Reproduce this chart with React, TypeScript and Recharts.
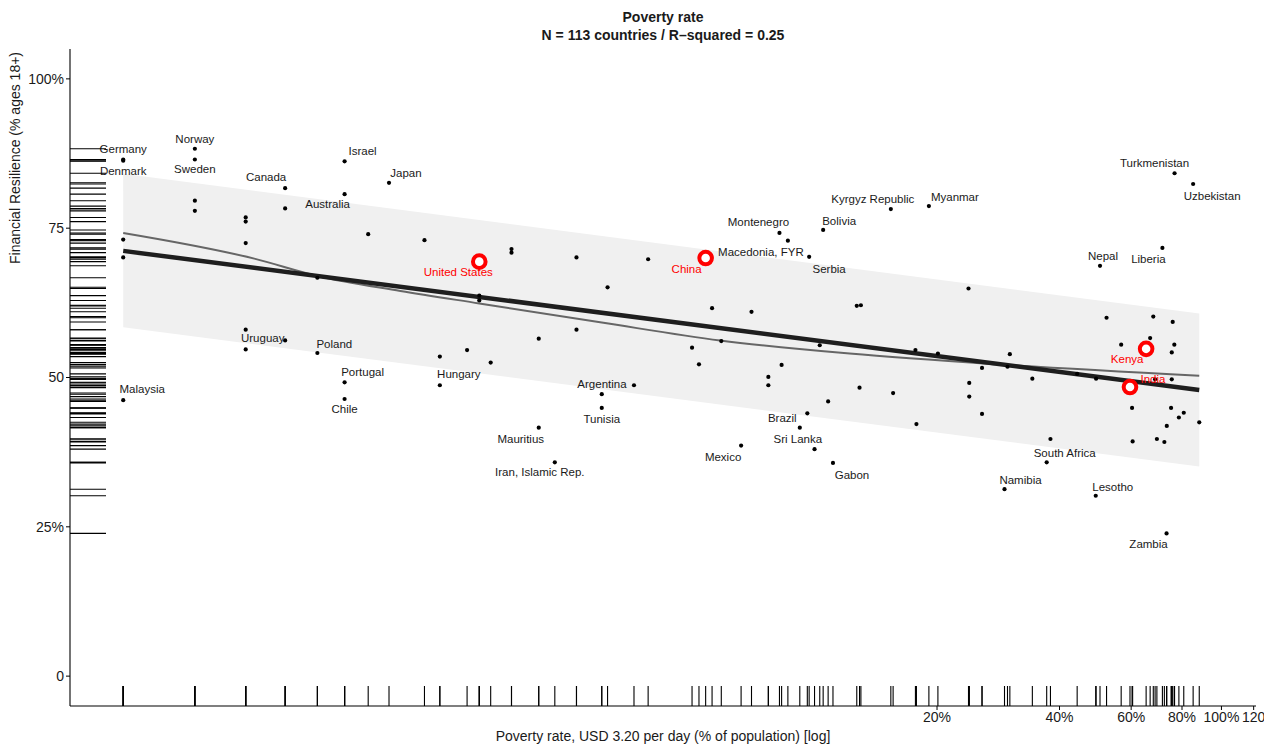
import React from 'react';
import { ComposedChart, XAxis, YAxis, Scatter, Line, Area } from 'recharts';

// ---- Data ----
const countries = [
  'Germany', 'Denmark', '', '', 'Malaysia',
  'Norway', 'Sweden', '', '',
  '', '', '', '', 'Uruguay',
  'Canada', '', '',
  '', 'Poland',
  'Israel', 'Australia', 'Portugal', 'Chile',
  '', 'Japan', '', '', 'Hungary', '',
  'United States', '', '', '', '', '',
  '', 'Mauritius', 'Iran, Islamic Rep.', '', '', '', 'Tunisia', '', 'Argentina', '',
  '', '', 'China', '', '', 'Mexico', '', '', '',
  'Montenegro', '', 'Macedonia, FYR', 'Sri Lanka', 'Brazil', 'Serbia', '', '', 'Bolivia', '', 'Gabon',
  '', '', '', 'Kyrgyz Republic', '', '', '', 'Myanmar', '',
  '', '', '', '', '', 'Namibia', '', '', '', 'South Africa', '', '',
  'Lesotho', '', 'Nepal', '', '', 'India', '', '', 'Kenya', '', '', '', '',
  'Liberia', '', 'Zambia', '', '', '', '', '', '', 'Turkmenistan', '', '', 'Uzbekistan', '',
];

const povertyRate = [
  0.2, 0.2, 0.2, 0.2, 0.2,
  0.3, 0.3, 0.3, 0.3,
  0.4, 0.4, 0.4, 0.4, 0.4,
  0.5, 0.5, 0.5,
  0.6, 0.6,
  0.7, 0.7, 0.7, 0.7,
  0.8, 0.9, 1.1, 1.2, 1.2, 1.4,
  1.5, 1.5, 1.5, 1.6, 1.8, 1.8,
  2.1, 2.1, 2.3, 2.6, 2.6, 3.0, 3.0, 3.1, 3.6, 3.9,
  5.0, 5.2, 5.4, 5.6, 5.9, 6.6, 7.0, 7.7, 7.7,
  8.2, 8.3, 8.6, 9.2, 9.6, 9.7, 10.0, 10.3, 10.5, 10.8, 11.1,
  12.7, 12.9, 13.0, 15.4, 15.6, 17.7, 17.8, 19.1, 20.1,
  23.9, 24.0, 24.0, 25.8, 25.8, 29.3, 29.8, 30.2, 34.3, 37.2, 38.0, 44.2,
  49.1, 49.2, 50.3, 52.2, 56.7, 59.6, 60.3, 60.5, 65.3, 66.8, 68.0, 68.7, 69.4,
  71.6, 72.4, 73.3, 73.4, 75.2, 75.5, 75.5, 75.9, 76.6, 76.7, 78.6, 80.8, 85.2, 88.2,
];

const resilience = [
  86.5, 86.3, 73.1, 70.1, 46.2,
  88.3, 86.5, 79.6, 77.9,
  76.8, 76.1, 72.5, 58.0, 54.7,
  81.7, 78.3, 56.2,
  66.7, 54.1,
  86.2, 80.7, 49.2, 46.4,
  74.0, 82.6, 73.0, 53.5, 48.7, 54.6,
  69.4, 63.7, 62.9, 52.5, 71.5, 70.9,
  56.5, 41.6, 35.8, 70.1, 58.0, 47.2, 44.9, 65.1, 48.7, 69.8,
  55.0, 52.2, 70.0, 61.6, 56.1, 38.6, 61.0, 50.1, 48.7,
  74.2, 52.1, 72.9, 41.6, 44.0, 70.2, 38.0, 55.4, 74.7, 46.0, 35.7,
  62.0, 48.3, 62.1, 78.2, 47.4, 54.6, 42.2, 78.7, 54.0,
  64.9, 49.1, 46.8, 51.6, 43.9, 31.3, 51.8, 53.9, 49.8, 35.8, 39.7, 50.6,
  30.2, 49.8, 68.7, 60.0, 55.5, 48.4, 44.9, 39.3, 54.8, 56.6, 60.2, 49.7, 39.7,
  71.7, 39.2, 23.9, 41.9, 44.9, 54.2, 49.7, 59.3, 55.5, 84.2, 43.3, 44.1, 82.4, 42.5,
];

const highlighted = ['United States', 'China', 'Kenya', 'India'];

// linear fit (log x) endpoints and prediction band
const fitX = [0.2, 88.2];
const fitY = [71.2, 47.9];
const bandLow = [58.4, 35.1];
const bandHigh = [84.1, 60.7];

// loess curve
const loessX = [0.2, 0.42, 0.6, 0.96, 1.5, 3.0, 5.86, 12.2, 28, 88.2];
const loessY = [74.2, 69.9, 67.0, 64.5, 62.4, 59.2, 56.2, 54.0, 52.2, 50.3];

const xTicks = [20, 40, 60, 80, 100, 120];
const xTickLabels = ['20%', '40%', '60%', '80%', '100%', '120'];
const yTicks = [0, 25, 50, 75, 100];
const yTickLabels = ['0', '25%', '50', '75', '100%'];

const X_DOMAIN: [number, number] = [0.148, 121.6];
const Y_DOMAIN: [number, number] = [-5, 105];

// label placement offsets (pixels), like ggrepel
const labelNudge: Record<string, [number, number]> = {
  Germany: [0, -10], Denmark: [0, 10], Norway: [0, -10], Sweden: [0, 10],
  Canada: [-19, -11], Australia: [-17, 10], Israel: [18, -10], Japan: [17, -10],
  'United States': [-21, 10], China: [-19, 11], 'Macedonia, FYR': [-27, 11],
  Montenegro: [-21, -11], Bolivia: [16, -9], Serbia: [20, 12],
  'Kyrgyz Republic': [-18, -10], Myanmar: [26, -9], Turkmenistan: [-20, -10],
  Uzbekistan: [19, 12], Nepal: [3, -10], Liberia: [-14, 11], Kenya: [-19, 10],
  India: [23, -8], Uruguay: [17, -11], Poland: [17, -9], Portugal: [18, -10],
  Chile: [0, 10], Malaysia: [19, -11], Hungary: [19, -11], Argentina: [-32, -1],
  Tunisia: [0, 11], Mauritius: [-18, 11], 'Iran, Islamic Rep.': [-15, 10],
  Mexico: [-18, 11], Brazil: [-25, 5], 'Sri Lanka': [-2, 11], Gabon: [19, 12],
  'South Africa': [18, -9], Namibia: [16, -9], Lesotho: [17, -9], Zambia: [-18, 11],
};

// ---- built tables ----
const points = povertyRate.map((x, i) => ({ x, y: resilience[i], name: countries[i] }));
const hiPoints = points.filter((p) => highlighted.includes(p.name));
const labelPoints = points.filter((p) => p.name !== '');
const fitData = fitX.map((x, i) => ({ x, y: fitY[i], band: [bandLow[i], bandHigh[i]] }));
const loessData = loessX.map((x, i) => ({ x, y: loessY[i] }));
const xRug = povertyRate.map((x) => ({ x, y: Y_DOMAIN[0] }));
const yRug = resilience.map((y) => ({ x: X_DOMAIN[0], y }));

const FONT = '"Liberation Sans", Arial, Helvetica, sans-serif';

const Dot = (props: any) => <circle cx={props.cx} cy={props.cy} r={2.1} fill="#000" />;
const Ring = (props: any) => (
  <circle cx={props.cx} cy={props.cy} r={6.3} fill="#fff" stroke="#ff0000" strokeWidth={4} />
);
const LabelShape = (props: any) => {
  const name = props.payload.name as string;
  const n = labelNudge[name] || [0, -10];
  const red = highlighted.includes(name);
  return (
    <text
      x={props.cx + n[0]}
      y={props.cy + n[1]}
      textAnchor="middle"
      dominantBaseline="central"
      fontSize={11.5}
      fontFamily={FONT}
      fill={red ? '#ff0000' : '#1a1a1a'}
    >
      {name}
    </text>
  );
};
const XRugShape = (props: any) => (
  <line x1={props.cx} x2={props.cx} y1={props.cy} y2={props.cy - 20} stroke="#000" strokeWidth={1.1} />
);
const YRugShape = (props: any) => (
  <line x1={props.cx} x2={props.cx + 36} y1={props.cy} y2={props.cy} stroke="#000" strokeWidth={1.1} />
);

export default function App() {
  return (
    <div style={{ position: 'absolute', left: 0, top: 0, width: 1264, height: 747, fontFamily: FONT, background: '#fff' }}>
      <div style={{ position: 'absolute', left: 0, width: 1326, top: 8, textAlign: 'center', fontSize: 14, fontWeight: 'bold', lineHeight: '18px', color: '#1a1a1a' }}>
        Poverty rate
        <br />
        N = 113 countries / R–squared = 0.25
      </div>
      <div style={{ position: 'absolute', left: 0, width: 1326, top: 727, textAlign: 'center', fontSize: 14, lineHeight: '18px', color: '#1a1a1a' }}>
        Poverty rate, USD 3.20 per day (% of population) [log]
      </div>
      <div
        style={{
          position: 'absolute', left: 15, top: 158, transform: 'translate(-50%, -50%) rotate(-90deg)',
          whiteSpace: 'nowrap', fontSize: 14, lineHeight: '18px', color: '#1a1a1a',
        }}
      >
        Financial Resilience (% ages 18+)
      </div>
      <ComposedChart width={1264} height={747} margin={{ top: 49, right: 8, bottom: 0, left: 0 }}>
        <XAxis
          type="number"
          dataKey="x"
          scale="log"
          domain={X_DOMAIN}
          allowDataOverflow
          ticks={xTicks}
          interval={0}
          tickFormatter={(v: number) => xTickLabels[xTicks.indexOf(v)] ?? ''}
          height={41}
          tickSize={4}
          tickLine={{ stroke: '#000' }}
          axisLine={{ stroke: '#000', strokeWidth: 1.1 }}
          tick={{ fill: '#1a1a1a', fontSize: 14 }}
        />
        <YAxis
          type="number"
          dataKey="y"
          domain={Y_DOMAIN}
          allowDataOverflow
          ticks={yTicks}
          interval={0}
          tickFormatter={(v: number) => yTickLabels[yTicks.indexOf(v)] ?? ''}
          width={70}
          tickSize={4}
          tickLine={{ stroke: '#000' }}
          axisLine={{ stroke: '#000', strokeWidth: 1.1 }}
          tick={{ fill: '#1a1a1a', fontSize: 14 }}
        />
        <Area
          data={fitData}
          dataKey="band"
          type="linear"
          fill="#f0f0f0"
          fillOpacity={1}
          stroke="none"
          isAnimationActive={false}
          dot={false}
          activeDot={false}
        />
        <Scatter data={points} shape={Dot} isAnimationActive={false} />
        <Line
          data={loessData}
          dataKey="y"
          type="monotone"
          stroke="#666666"
          strokeWidth={2}
          dot={false}
          activeDot={false}
          isAnimationActive={false}
        />
        <Line
          data={fitData}
          dataKey="y"
          type="linear"
          stroke="#1e1e1e"
          strokeWidth={4.5}
          dot={false}
          activeDot={false}
          isAnimationActive={false}
        />
        <Scatter data={hiPoints} shape={Ring} isAnimationActive={false} />
        <Scatter data={labelPoints} shape={LabelShape} isAnimationActive={false} />
        <Scatter data={xRug} shape={XRugShape} isAnimationActive={false} />
        <Scatter data={yRug} shape={YRugShape} isAnimationActive={false} />
      </ComposedChart>
    </div>
  );
}
